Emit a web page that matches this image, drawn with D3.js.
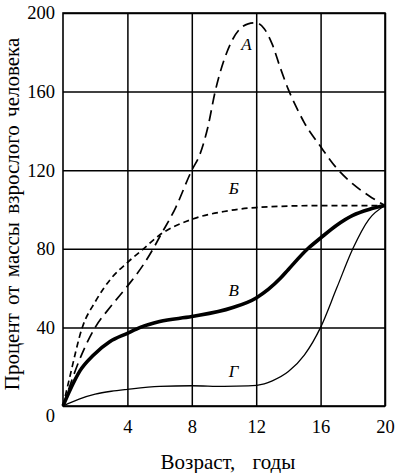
<!DOCTYPE html>
<html>
<head>
<meta charset="utf-8">
<script src="https://cdn.jsdelivr.net/npm/d3@7"></script>
<style>
  body { margin: 0; background: #fff; }
  svg text { font-family: "Liberation Serif", "Times New Roman", serif; fill: #000; }
  .axis path { display: none; }
  .axis line { stroke: #000; stroke-width: 1.5; }
  .axis text { font-size: 18.5px; }
</style>
</head>
<body>
<script>
(function() {
    // chart data
    var xTicks = [4, 8, 12, 16, 20];
    var yTicks = [0, 40, 80, 120, 160, 200];

    var curveA = [[0,0],[0.5,12],[1,23],[2,40],[3,51],[4,61],[5,72],[5.6,80],[6,86],[7,101],[8,120],
        [8.5,128],[9,142],[9.45,160],[10,176],[10.5,186],[11,192],[11.5,194.5],[12,195],[12.5,192],
        [13,184],[13.5,172],[14,161],[14.5,152],[15,144],[16,132],[17,121],[18,113],[19,107],[20,102]];
    var curveB = [[0,0],[0.4,14],[1.2,40],[2,53],[3,65],[4,73],[5,80],[6,87],[8,95],[10,99],
        [12,101],[16,102],[20,102]];
    var curveV = [[0,0],[0.43,8],[1.06,18],[1.9,26],[2.9,32.7],[4,37],[4.8,40],[6,43],[8,45.5],
        [10.5,50],[12,55],[13.5,65],[14,69.5],[15.2,80],[16,85.5],[17,92],[18,97],[19,100],[20,102]];
    var curveG = [[0,0],[1,3.5],[2,6],[3,7.5],[4,8.5],[6,10],[8,10.3],[10,10],[11.5,10.2],[12.5,11.3],[13,12.8],
        [14,17.5],[15,26],[16,40],[17,60],[18,80],[19,95],[20,102]];

    var labels = [
        { text: "А", at: [11.4, 181] },
        { text: "Б", at: [10.6, 108] },
        { text: "В", at: [10.6, 56] },
        { text: "Г", at: [10.6, 15] }
    ];

    // layout
    var width = 397, height = 473;
    var margin = { left: 63, right: 12, top: 13, bottom: 67 };

    var svg = d3.select("body").append("svg")
        .attr("width", width)
        .attr("height", height);

    var x = d3.scaleLinear().domain([0, 20]).range([margin.left, width - margin.right]);
    var y = d3.scaleLinear().domain([0, 200]).range([height - margin.bottom, margin.top]);

    var plotW = x(20) - x(0);
    var plotH = y(0) - y(200);

    // grid + ticks
    svg.append("g")
        .attr("class", "axis")
        .attr("transform", "translate(0," + y(0) + ")")
        .call(d3.axisBottom(x).tickValues(xTicks).tickSize(-plotH).tickPadding(14));

    var yAxis = svg.append("g")
        .attr("class", "axis")
        .attr("transform", "translate(" + x(0) + ",0)")
        .call(d3.axisLeft(y).tickValues(yTicks).tickSize(-plotW).tickPadding(8));
    yAxis.selectAll(".tick text").filter(function(d) { return d === 0; })
        .attr("dy", "0.85em");

    // frame
    svg.append("rect")
        .attr("x", x(0))
        .attr("y", y(200))
        .attr("width", plotW)
        .attr("height", plotH)
        .attr("fill", "none")
        .attr("stroke", "#000")
        .attr("stroke-width", 1.6);

    // curves
    var line = d3.line()
        .x(function(d) { return x(d[0]); })
        .y(function(d) { return y(d[1]); })
        .curve(d3.curveMonotoneX);

    var series = [
        { data: curveA, width: 1.7, dash: "11,6" },
        { data: curveB, width: 1.7, dash: "6,4" },
        { data: curveV, width: 3.6, dash: null },
        { data: curveG, width: 1.3, dash: null }
    ];

    svg.selectAll(".curve")
        .data(series)
        .enter().append("path")
        .attr("class", "curve")
        .attr("d", function(d) { return line(d.data); })
        .attr("fill", "none")
        .attr("stroke", "#000")
        .attr("stroke-width", function(d) { return d.width; })
        .attr("stroke-dasharray", function(d) { return d.dash; })
        .attr("stroke-linejoin", "round");

    // curve names
    svg.selectAll(".name")
        .data(labels)
        .enter().append("text")
        .attr("class", "name")
        .attr("x", function(d) { return x(d.at[0]); })
        .attr("y", function(d) { return y(d.at[1]); })
        .attr("text-anchor", "middle")
        .attr("font-size", 17)
        .attr("font-style", "italic")
        .text(function(d) { return d.text; });

    // axis titles
    svg.append("text")
        .attr("x", 228)
        .attr("y", 469)
        .attr("text-anchor", "middle")
        .attr("font-size", 21)
        .attr("word-spacing", 12)
        .text("Возраст, годы");

    svg.append("text")
        .attr("transform", "translate(19,214) rotate(-90)")
        .attr("text-anchor", "middle")
        .attr("font-size", 21)
        .attr("word-spacing", 3)
        .text("Процент от массы взрослого человека");
})();
</script>
</body>
</html>
